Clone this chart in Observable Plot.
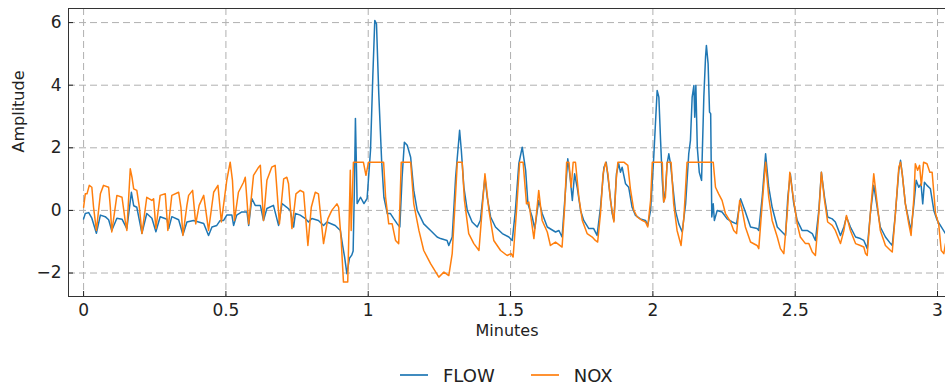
<!DOCTYPE html>
<html><head><meta charset="utf-8">
<script src="https://cdn.jsdelivr.net/npm/d3@7"></script>
<script src="https://cdn.jsdelivr.net/npm/@observablehq/plot@0.6"></script>
<style>
body{margin:0;background:#fff;font-family:"DejaVu Sans",sans-serif;}
#wrap{position:relative;width:945px;height:388px;overflow:hidden;}
#legend{position:absolute;left:400px;top:363px;height:24px;display:flex;align-items:center;font-size:18px;color:#222;white-space:nowrap;}
.sw{display:inline-block;width:28px;height:2px;margin-right:15px;opacity:0.85;}
.item{display:flex;align-items:center;margin-right:36px;}
</style></head><body><div id="wrap"></div>
<script>
const seriesNames = ["FLOW", "NOX"];
const seriesColors = ["#1f77b4", "#ff7f0e"];
const xTicks = [0, 0.5, 1, 1.5, 2, 2.5, 3];
const yTicks = [-2, 0, 2, 4, 6];

const flowPoints = [
[0,-0.27],[0.006,-0.1],[0.018,-0.07],[0.029,-0.25],[0.045,-0.73],[0.059,-0.15],[0.076,-0.2],[0.088,-0.3],[0.099,-0.64],[0.117,-0.25],
[0.135,-0.28],[0.152,-0.58],[0.168,0.58],[0.176,0.15],[0.187,0.1],[0.205,-0.73],[0.222,-0.1],[0.240,-0.25],[0.254,-0.68],[0.269,-0.2],
[0.293,-0.28],[0.299,-0.58],[0.310,-0.2],[0.334,-0.3],[0.349,-0.78],[0.363,-0.37],[0.386,-0.32],[0.404,-0.37],[0.422,-0.42],[0.439,-0.8],
[0.451,-0.53],[0.468,-0.48],[0.480,-0.32],[0.492,-0.32],[0.503,-0.15],[0.521,-0.15],[0.527,-0.48],[0.538,-0.15],[0.556,-0.05],[0.574,-0.05],
[0.580,-0.48],[0.591,0.38],[0.603,0.16],[0.621,0.16],[0.632,-0.32],[0.644,0.06],[0.667,0.16],[0.685,-0.48],[0.697,0.22],[0.714,0.1],
[0.726,0],[0.738,-0.53],[0.744,-0.1],[0.761,-0.15],[0.779,-0.26],[0.790,-0.37],[0.802,-0.26],[0.825,-0.32],[0.843,-0.48],[0.855,-0.37],
[0.884,-0.48],[0.902,-0.64],[0.910,-1.12],[0.917,-1.49],[0.925,-2.02],[0.934,-1.53],[0.942,-1.43],[0.947,-1.3],[0.952,1.0],[0.955,2.94],
[0.959,1.2],[0.961,0.22],[0.973,0.42],[0.985,0.22],[0.996,0.38],[1.008,1.92],[1.016,4.26],[1.023,6.07],[1.029,5.96],[1.037,3.73],
[1.047,1.6],[1.055,0.42],[1.067,-0.1],[1.078,-0.1],[1.090,-0.27],[1.102,-0.43],[1.111,-0.53],[1.119,1.06],[1.127,2.18],[1.137,2.08],
[1.149,1.7],[1.160,0.64],[1.172,0],[1.195,-0.43],[1.219,-0.64],[1.242,-0.85],[1.254,-0.9],[1.277,-0.96],[1.283,-1.12],[1.295,-0.85],
[1.307,1.06],[1.321,2.56],[1.327,1.92],[1.336,0.74],[1.348,0],[1.365,-0.37],[1.383,-0.53],[1.394,-0.32],[1.410,1.06],[1.418,0.42],
[1.430,-0.21],[1.447,-0.53],[1.471,-0.74],[1.494,-0.85],[1.506,-0.96],[1.517,0],[1.529,1.49],[1.541,2.02],[1.553,1.28],[1.561,0.21],
[1.576,-0.21],[1.585,-0.58],[1.599,0.32],[1.611,-0.1],[1.629,-0.53],[1.658,-0.69],[1.670,-0.64],[1.681,-0.85],[1.693,0.64],[1.701,1.65],
[1.708,1.17],[1.717,0.32],[1.725,1.17],[1.734,0.74],[1.746,0],[1.757,-0.32],[1.775,-0.58],[1.792,-0.58],[1.804,-0.8],[1.816,0.1],
[1.828,1.38],[1.836,1.54],[1.845,0.85],[1.857,-0.1],[1.863,-0.32],[1.872,1.17],[1.880,1.49],[1.886,1.22],[1.892,1.38],[1.904,0.85],
[1.915,0.74],[1.927,0.1],[1.939,-0.16],[1.956,-0.27],[1.974,-0.32],[1.982,-0.48],[1.992,0],[2.003,1.7],[2.009,2.77],[2.015,3.83],
[2.021,3.62],[2.027,2.24],[2.033,0.96],[2.038,0.27],[2.044,0.64],[2.050,1.49],[2.056,1.81],[2.062,1.49],[2.068,0.96],[2.079,0],
[2.091,-0.43],[2.103,-0.69],[2.115,0.21],[2.126,1.81],[2.132,2.24],[2.138,3.62],[2.144,3.99],[2.147,2.98],[2.151,3.99],[2.156,2.02],
[2.163,1.22],[2.171,0.96],[2.179,3.62],[2.185,4.9],[2.188,5.27],[2.194,4.69],[2.199,3.14],[2.203,3.09],[2.207,-0.21],[2.212,0.21],
[2.216,-0.32],[2.226,0],[2.243,-0.05],[2.261,-0.27],[2.279,-0.37],[2.294,-0.43],[2.308,0.37],[2.325,-0.05],[2.343,-0.53],[2.366,-0.58],
[2.372,-0.64],[2.384,0.42],[2.396,1.81],[2.407,0.74],[2.419,0.1],[2.437,-0.53],[2.454,-0.69],[2.466,-0.8],[2.474,0.42],[2.483,1.17],
[2.495,0.21],[2.507,-0.32],[2.524,-0.64],[2.542,-0.64],[2.560,-0.74],[2.571,-0.96],[2.583,0],[2.592,1.22],[2.603,0.42],[2.614,-0.21],
[2.630,-0.27],[2.641,-0.37],[2.659,-0.8],[2.671,-0.53],[2.680,-0.21],[2.694,-0.53],[2.712,-0.85],[2.729,-0.9],[2.741,-0.96],[2.753,-1.22],
[2.764,-0.1],[2.776,0.8],[2.788,0.1],[2.799,-0.53],[2.817,-0.85],[2.835,-1.06],[2.841,-1.12],[2.852,-0.1],[2.864,1.28],[2.870,1.6],
[2.876,1.17],[2.887,0.21],[2.899,-0.32],[2.907,-0.64],[2.917,0.21],[2.925,0.96],[2.934,0.74],[2.942,0.85],[2.948,0.21],[2.954,0.9],
[2.963,0.8],[2.975,0.69],[2.987,0],[2.999,-0.32],[3.010,-0.48],[3.028,-0.74]
];

const noxPoints = [
[0,0.1],[0.006,0.53],[0.012,0.53],[0.020,0.8],[0.029,0.74],[0.035,0.1],[0.045,-0.64],[0.059,0.53],[0.070,0.8],[0.088,0.74],
[0.094,0.1],[0.099,-0.69],[0.117,0.48],[0.135,0.42],[0.146,-0.32],[0.152,-0.64],[0.164,1.33],[0.170,1.06],[0.176,0.69],[0.187,0.64],
[0.196,0.1],[0.205,-0.74],[0.222,0.42],[0.240,0.32],[0.246,0.37],[0.254,-0.58],[0.269,0.48],[0.287,0.53],[0.296,-0.64],[0.310,0.48],
[0.334,0.58],[0.342,0.1],[0.349,-0.8],[0.363,0.16],[0.369,0.48],[0.383,0.64],[0.394,-0.43],[0.406,0.16],[0.422,0.48],[0.439,-0.64],
[0.457,0.58],[0.472,0.8],[0.484,-0.37],[0.503,0.96],[0.515,1.54],[0.523,0.96],[0.530,-0.32],[0.544,0.58],[0.562,0.9],[0.568,1.06],
[0.580,-0.43],[0.597,1.12],[0.615,1.38],[0.621,1.44],[0.632,-0.32],[0.644,0.96],[0.661,1.38],[0.673,1.44],[0.688,-0.43],[0.703,1.01],
[0.714,1.06],[0.720,0.85],[0.732,-0.58],[0.746,0.53],[0.761,0.64],[0.773,0.58],[0.788,-1.12],[0.800,0.1],[0.814,0.58],[0.825,0.53],
[0.843,-1.06],[0.858,-0.27],[0.872,0],[0.890,0.21],[0.896,0.1],[0.905,-0.96],[0.913,-2.29],[0.928,-2.29],[0.937,1.28],[0.940,-0.64],
[0.948,1.54],[0.983,1.54],[0.992,1.12],[1.001,1.54],[1.054,1.54],[1.061,0.42],[1.072,-0.43],[1.084,-0.43],[1.096,-0.96],[1.107,-1.06],
[1.116,1.54],[1.149,1.54],[1.160,0.21],[1.178,-0.64],[1.195,-1.28],[1.219,-1.7],[1.248,-2.13],[1.266,-1.97],[1.283,-2.08],[1.295,-1.38],
[1.307,0.53],[1.313,1.54],[1.330,1.54],[1.338,0.32],[1.353,-0.74],[1.371,-1.06],[1.389,-1.28],[1.400,0],[1.410,1.17],[1.424,0],
[1.441,-0.96],[1.465,-1.28],[1.488,-1.44],[1.502,-1.38],[1.509,-1.49],[1.521,0],[1.532,1.54],[1.544,1.54],[1.556,0.21],[1.564,0.27],
[1.582,-0.9],[1.591,-0.1],[1.599,0.64],[1.611,-0.32],[1.629,-0.69],[1.640,-1.12],[1.658,-1.01],[1.681,-1.17],[1.690,0.1],[1.697,1.54],
[1.705,1.54],[1.713,0.74],[1.720,1.54],[1.728,1.54],[1.740,0.42],[1.752,-0.32],[1.769,-0.74],[1.787,-0.85],[1.798,-0.96],[1.806,-1.01],
[1.816,-0.1],[1.825,1.17],[1.834,1.54],[1.842,1.17],[1.851,0.32],[1.863,-0.37],[1.871,0.96],[1.877,1.54],[1.898,1.54],[1.912,1.44],
[1.921,0.69],[1.933,0],[1.945,-0.21],[1.962,-0.32],[1.974,-0.37],[1.982,-0.53],[1.992,0.32],[1.998,1.54],[2.033,1.54],[2.038,0.27],
[2.044,0.42],[2.050,1.54],[2.064,1.54],[2.073,0.21],[2.085,-0.64],[2.099,-1.12],[2.109,-0.21],[2.120,1.54],[2.212,1.54],[2.220,0.74],
[2.231,0.53],[2.243,0.32],[2.255,-0.1],[2.273,-0.37],[2.284,-0.64],[2.294,-0.74],[2.305,0.32],[2.314,0],[2.325,-0.53],[2.343,-1.01],
[2.366,-1.12],[2.372,-1.22],[2.384,0.21],[2.396,1.54],[2.407,0.42],[2.419,-0.32],[2.437,-0.85],[2.448,-1.22],[2.460,-1.38],[2.472,-0.1],
[2.481,1.22],[2.493,0.42],[2.507,-0.43],[2.518,-0.85],[2.536,-1.06],[2.548,-1.06],[2.560,-1.33],[2.571,-1.44],[2.583,-0.1],[2.592,1.22],
[2.603,0.32],[2.614,-0.37],[2.630,-0.48],[2.641,-0.64],[2.659,-1.06],[2.671,-0.64],[2.680,-0.16],[2.694,-0.64],[2.712,-1.06],[2.729,-1.12],
[2.741,-1.17],[2.747,-1.38],[2.753,-1.44],[2.764,-0.1],[2.776,1.17],[2.788,0.21],[2.799,-0.64],[2.817,-1.12],[2.835,-1.28],[2.841,-1.33],
[2.852,-0.1],[2.864,1.38],[2.870,1.54],[2.876,1.17],[2.887,0.21],[2.899,-0.43],[2.907,-0.8],[2.917,0.42],[2.922,1.49],[2.930,1.28],
[2.937,1.44],[2.943,0.8],[2.951,1.54],[2.963,1.49],[2.973,1.22],[2.981,1.22],[2.993,-0.1],[3.004,-0.43],[3.013,-1.28],[3.022,-1.38],
[3.028,-1.06]
];

const flow = flowPoints.map(([t, v]) => ({t, v}));
const nox = noxPoints.map(([t, v]) => ({t, v}));
const fmtY = d => d < 0 ? "\u2212" + Math.abs(d) : String(d);

const chart = Plot.plot({
  width: 945, height: 345,
  marginLeft: 68, marginRight: 0, marginTop: 8, marginBottom: 49,
  style: {fontFamily: "DejaVu Sans", fontSize: "17px", color: "#222", background: "#fff", overflow: "visible"},
  x: {domain: [-0.053, 3.028]},
  y: {domain: [-2.75, 6.45]},
  marks: [
    Plot.gridX(xTicks, {stroke: "#b0b0b0", strokeOpacity: 1, strokeWidth: 1, strokeDasharray: "7,4"}),
    Plot.gridY(yTicks, {stroke: "#b0b0b0", strokeOpacity: 1, strokeWidth: 1, strokeDasharray: "7,4"}),
    Plot.line(flow, {x: "t", y: "v", stroke: seriesColors[0], strokeWidth: 1.5}),
    Plot.line(nox, {x: "t", y: "v", stroke: seriesColors[1], strokeWidth: 1.5}),
    Plot.frame({stroke: "#333", strokeWidth: 1}),
    Plot.axisX(xTicks, {tickSize: -5, tickPadding: 12, tickFormat: d => String(d), label: null, fontSize: 17}),
    Plot.axisY(yTicks, {tickSize: -5, tickPadding: 12, tickFormat: fmtY, label: null, fontSize: 17}),
    Plot.text(["Minutes"], {text: d => d, frameAnchor: "bottom", dy: 39, fontSize: 16, fill: "#222"}),
    Plot.text(["Amplitude"], {text: d => d, frameAnchor: "left", dx: -50, rotate: -90, fontSize: 16, fill: "#222"})
  ]
});

const wrap = document.getElementById("wrap");
wrap.appendChild(chart);
const legend = document.createElement("div");
legend.id = "legend";
seriesNames.forEach((name, i) => {
  const item = document.createElement("span");
  item.className = "item";
  const sw = document.createElement("span");
  sw.className = "sw";
  sw.style.background = seriesColors[i];
  const label = document.createElement("span");
  label.textContent = name;
  item.appendChild(sw);
  item.appendChild(label);
  legend.appendChild(item);
});
wrap.appendChild(legend);
</script>
</body></html>
